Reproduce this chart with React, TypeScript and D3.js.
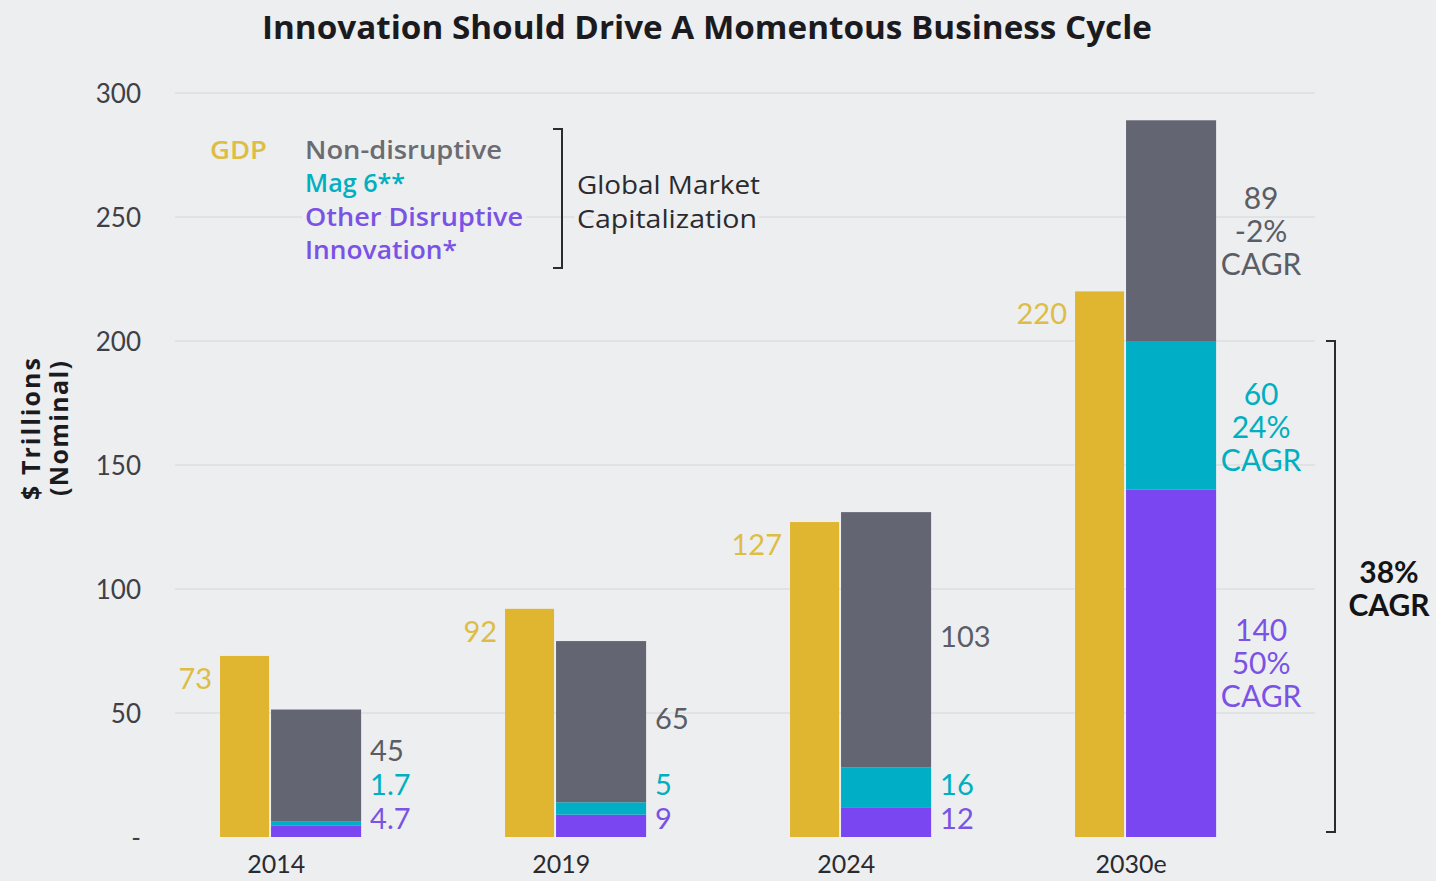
import { useEffect, useRef } from 'react';
import * as d3 from 'd3';

// values in $ trillions (nominal)
const years = ['2014', '2019', '2024', '2030e'];
const gdp = [73, 92, 127, 220];
const otherDisruptive = [4.7, 9, 12, 140];
const mag6 = [1.7, 5, 16, 60];
const nonDisruptive = [45, 65, 103, 89];
const labelText = {
  other: ['4.7', '9', '12', '140'],
  mag6: ['1.7', '5', '16', '60'],
  non: ['45', '65', '103', '89'],
};
const cagr2030 = { non: '-2%', mag6: '24%', other: '50%' };
const yTicks = [0, 50, 100, 150, 200, 250, 300];

const BG = '#EDEEEF';
const GOLD = '#E0B630';
const GOLD_TXT = '#DDBD45';
const GRAY = '#636672';
const GRAY_TXT = '#5B5D66';
const CYAN = '#00AEC6';
const CYAN_TXT = '#00AFC0';
const PURPLE = '#7A46F2';
const PURPLE_TXT = '#7A52E6';
const FONT = 'Lato, "Open Sans", sans-serif';
const WIDE_FONT = '"Open Sans", Lato, sans-serif';

export default function App() {
  const svgRef = useRef<SVGSVGElement>(null);

  useEffect(() => {
    document.body.style.margin = '0';
    if (!svgRef.current) return;
    const svg = d3.select(svgRef.current);
    svg.selectAll('*').remove();

    const width = 1436;
    const height = 881;

    svg.append('rect').attr('width', width).attr('height', height).attr('fill', BG);

    const x = d3.scaleBand<string>().domain(years).range([175, 1315]);
    const y = d3.scaleLinear().domain([0, 300]).range([837, 93]);
    const bw = x.bandwidth();

    const g = svg.append('g').attr('font-family', FONT);

    // gridlines
    g.selectAll('.grid')
      .data(yTicks.filter(t => t > 0))
      .join('line')
      .attr('x1', 175)
      .attr('x2', 1315)
      .attr('y1', d => y(d))
      .attr('y2', d => y(d))
      .attr('stroke', '#DCDEE0')
      .attr('stroke-width', 1.5);

    // y tick labels
    g.selectAll('.ytick')
      .data(yTicks)
      .join('text')
      .attr('x', 141)
      .attr('y', d => y(d) + 10)
      .attr('text-anchor', 'end')
      .attr('font-size', 26)
      .attr('fill', '#3F4046')
      .text(d => (d === 0 ? '-' : String(d)));

    // title
    g.append('text')
      .attr('x', 262)
      .attr('y', 39)
      .attr('font-family', WIDE_FONT)
      .attr('font-size', 32)
      .attr('font-weight', 700)
      .attr('fill', '#1B1B1F')
      .attr('textLength', 890)
      .attr('lengthAdjust', 'spacingAndGlyphs')
      .text('Innovation Should Drive A Momentous Business Cycle');

    // y axis title
    const yt = g.append('text')
      .attr('transform', 'translate(0,429) rotate(-90)')
      .attr('font-family', WIDE_FONT)
      .attr('font-size', 25)
      .attr('font-weight', 700)
      .attr('fill', '#1B1B1F');
    yt.append('tspan').attr('x', -71).attr('y', 40).attr('textLength', 142).attr('lengthAdjust', 'spacing').text('$ Trillions');
    yt.append('tspan').attr('x', -67).attr('y', 68).attr('textLength', 135).attr('lengthAdjust', 'spacing').text('(Nominal)');

    // x labels
    g.selectAll('.xlab')
      .data(years)
      .join('text')
      .attr('x', d => (x(d) as number) + bw * 0.355)
      .attr('y', 873)
      .attr('text-anchor', 'middle')
      .attr('font-size', 25)
      .attr('fill', '#2A2B30')
      .text(d => d);

    const gdpX = (d: string) => (x(d) as number) + bw * 0.158;
    const gdpW = bw * 0.172;
    const stX = (d: string) => (x(d) as number) + bw * 0.337;
    const stW = bw * 0.316;

    // GDP bars
    g.selectAll('.gdp')
      .data(years)
      .join('rect')
      .attr('x', d => gdpX(d))
      .attr('width', gdpW)
      .attr('y', (d, i) => y(gdp[i]))
      .attr('height', (d, i) => y(0) - y(gdp[i]))
      .attr('fill', GOLD);

    g.selectAll('.gdplab')
      .data(years)
      .join('text')
      .attr('x', d => gdpX(d) - 8)
      .attr('y', (d, i) => y(gdp[i]) + 33)
      .attr('text-anchor', 'end')
      .attr('font-size', 29)
      .attr('fill', GOLD_TXT)
      .text((d, i) => String(gdp[i]));

    // stacked market cap bars
    const rows = years.map((yr, i) => ({ year: yr, other: otherDisruptive[i], mag6: mag6[i], non: nonDisruptive[i] }));
    const keys = ['other', 'mag6', 'non'] as const;
    const colors: Record<string, string> = { other: PURPLE, mag6: CYAN, non: GRAY };
    const txtColors: Record<string, string> = { other: PURPLE_TXT, mag6: CYAN_TXT, non: GRAY_TXT };
    const stack = d3.stack<any>().keys(keys as unknown as string[])(rows);

    stack.forEach(layer => {
      g.selectAll(`.seg-${layer.key}`)
        .data(layer)
        .join('rect')
        .attr('x', d => stX(d.data.year))
        .attr('width', stW)
        .attr('y', d => y(d[1]))
        .attr('height', d => y(d[0]) - y(d[1]))
        .attr('fill', colors[layer.key]);
    });

    // segment labels for 2014-2024
    years.slice(0, 3).forEach((yr, i) => {
      const lx = stX(yr) + stW + 9;
      const otherY = 818;
      const magY = 784;
      const nonMid = (y(stack[2][i][0]) + y(stack[2][i][1])) / 2;
      const nonY = Math.min(nonMid - 4, magY - 34);
      const items = [
        { t: labelText.other[i], c: txtColors.other, cy: otherY },
        { t: labelText.mag6[i], c: txtColors.mag6, cy: magY },
        { t: labelText.non[i], c: txtColors.non, cy: nonY },
      ];
      items.forEach(it => {
        g.append('text')
          .attr('x', lx)
          .attr('y', it.cy + 11)
          .attr('font-size', 29)
          .attr('fill', it.c)
          .text(it.t);
      });
    });

    // 2030e labels with CAGR
    const last = years.length - 1;
    const cx = stX(years[last]) + stW + 45;
    keys.forEach((k, ki) => {
      const seg = stack[ki][last];
      const mid = (y(seg[0]) + y(seg[1])) / 2 + (k === 'mag6' ? 12 : 0);
      const lines = [labelText[k][last], cagr2030[k], 'CAGR'];
      const t = g.append('text')
        .attr('text-anchor', 'middle')
        .attr('font-size', 30)
        .attr('fill', txtColors[k]);
      lines.forEach((ln, li) => {
        t.append('tspan')
          .attr('x', cx)
          .attr('y', mid + 11 + (li - 1) * 33)
          .text(ln);
      });
    });

    // right bracket for disruptive innovation
    const bx = 1335;
    const top = y(200);
    const bot = y(0) - 5;
    g.append('path')
      .attr('d', `M${bx - 9},${top} H${bx} V${bot} H${bx - 9}`)
      .attr('fill', 'none')
      .attr('stroke', '#2B2C30')
      .attr('stroke-width', 2);
    const c38 = g.append('text')
      .attr('text-anchor', 'middle')
      .attr('font-size', 30)
      .attr('font-weight', 700)
      .attr('fill', '#141416');
    c38.append('tspan').attr('x', 1389).attr('y', 583).text('38%');
    c38.append('tspan').attr('x', 1389).attr('y', 616).text('CAGR');

    // legend
    const leg = g.append('g').attr('font-family', WIDE_FONT).attr('font-size', 25).attr('font-weight', 600)
      .attr('stroke', BG).attr('stroke-width', 8).attr('paint-order', 'stroke');
    const legItems = [
      { t: 'GDP', x: 210, y: 159, c: GOLD_TXT, w: 57 },
      { t: 'Non-disruptive', x: 305, y: 159, c: '#6B6C72', w: 197 },
      { t: 'Mag 6**', x: 305, y: 192, c: CYAN_TXT, w: 100 },
      { t: 'Other Disruptive', x: 305, y: 226, c: PURPLE_TXT, w: 218 },
      { t: 'Innovation*', x: 305, y: 259, c: PURPLE_TXT, w: 152 },
    ];
    legItems.forEach(it => {
      leg.append('text')
        .attr('x', it.x)
        .attr('y', it.y)
        .attr('fill', it.c)
        .attr('textLength', it.w)
        .attr('lengthAdjust', 'spacingAndGlyphs')
        .text(it.t);
    });

    g.append('path')
      .attr('d', 'M553,129 H562 V268 H553')
      .attr('fill', 'none')
      .attr('stroke', '#2B2C30')
      .attr('stroke-width', 2);

    const gm = g.append('text').attr('font-family', WIDE_FONT).attr('font-size', 26).attr('fill', '#2A2B30')
      .attr('stroke', BG).attr('stroke-width', 8).attr('paint-order', 'stroke');
    gm.append('tspan').attr('x', 577).attr('y', 194).attr('textLength', 183).attr('lengthAdjust', 'spacingAndGlyphs').text('Global Market');
    gm.append('tspan').attr('x', 577).attr('y', 228).attr('textLength', 180).attr('lengthAdjust', 'spacingAndGlyphs').text('Capitalization');
  }, []);

  return <svg ref={svgRef} width={1436} height={881} style={{ display: 'block' }} />;
}
